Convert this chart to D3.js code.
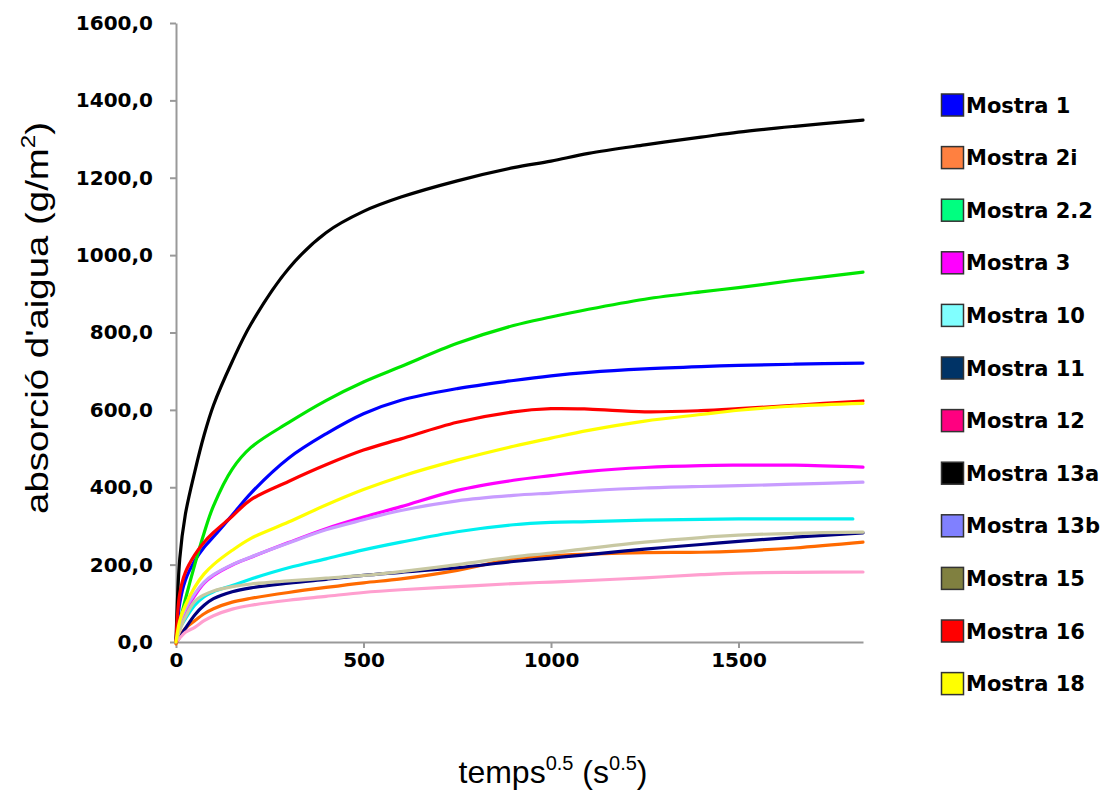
<!DOCTYPE html>
<html>
<head>
<meta charset="utf-8">
<script src="https://cdn.jsdelivr.net/npm/d3@7"></script>
<style>
  body { margin: 0; background: #fff; }
  svg { display: block; }
</style>
</head>
<body>
<div id="chart"></div>
<script>
var width = 1114, height = 792;

// sample times (temps^0.5) shared by every series
var times = [0, 10, 25, 50, 75, 100, 150, 200, 300, 400, 500, 600, 750, 900, 1000, 1100, 1250, 1400, 1500, 1650, 1832];

var names = ["Mostra 1", "Mostra 2i", "Mostra 2.2", "Mostra 3", "Mostra 10", "Mostra 11",
             "Mostra 12", "Mostra 13a", "Mostra 13b", "Mostra 15", "Mostra 16", "Mostra 18"];

// colours in the legend boxes
var legendColors = ["#0000ff", "#ff8040", "#00ff80", "#ff00ff", "#80ffff", "#003366",
                    "#ff0080", "#000000", "#8080ff", "#808040", "#ff0000", "#ffff00"];
// colours actually used for the plotted lines
var lineColors = ["#0000ff", "#ff6a00", "#00e600", "#ff00ff", "#00f0f0", "#000080",
                  "#ff9fcf", "#000000", "#c89cff", "#c8c8a2", "#ff0000", "#ffff00"];

// last sample time of each series (Mostra 10 stops a bit earlier)
var lastTime = [1832, 1832, 1832, 1832, 1805, 1832, 1832, 1832, 1832, 1832, 1832, 1832];

var m1   = [0, 100, 160, 210, 245, 272, 328, 385, 475, 538, 590, 625, 655, 676, 688, 697, 706, 712, 715, 718, 721];
var m2i  = [-5, 15, 35, 55, 73, 86, 103, 113, 128, 141, 153, 163, 185, 215, 223, 227, 231, 232, 235, 243, 258];
var m22  = [0, 50, 110, 200, 282, 352, 447, 503, 567, 624, 672, 712, 772, 818, 840, 860, 886, 905, 916, 935, 956];
var m3   = [0, 45, 80, 120, 152, 172, 199, 219, 257, 293, 323, 350, 392, 418, 430, 441, 451, 456, 457, 457, 452];
var m10  = [0, 35, 60, 95, 117, 130, 146, 163, 192, 215, 238, 258, 285, 303, 309, 311, 315, 317, 318, 318, 318];
var m11  = [0, 12, 35, 70, 95, 112, 130, 140, 152, 162, 172, 180, 192, 208, 217, 226, 240, 252, 260, 271, 282];
var m12  = [0, 10, 25, 38, 55, 68, 85, 95, 108, 118, 128, 135, 143, 151, 155, 159, 166, 174, 178, 180, 181];
var m13a = [0, 215, 330, 440, 535, 612, 725, 822, 965, 1058, 1113, 1150, 1192, 1226, 1243, 1263, 1285, 1305, 1318, 1333, 1349];
var m13b = [0, 50, 85, 125, 155, 174, 200, 220, 256, 290, 316, 340, 365, 379, 385, 391, 398, 402, 404, 408, 413];
var m15  = [0, 30, 65, 105, 122, 132, 143, 150, 158, 165, 172, 182, 200, 220, 230, 242, 258, 270, 276, 281, 284];
var m16  = [0, 125, 180, 225, 258, 283, 325, 368, 415, 458, 496, 525, 568, 595, 603, 602, 595, 598, 603, 612, 623];
var m18  = [0, 55, 95, 142, 176, 200, 237, 268, 310, 354, 394, 428, 470, 506, 527, 547, 571, 588, 599, 610, 617];

var seriesValues = [m1, m2i, m22, m3, m10, m11, m12, m13a, m13b, m15, m16, m18];

var yTicks = [0, 200, 400, 600, 800, 1000, 1200, 1400, 1600];
var xTicks = [0, 500, 1000, 1500];

var svg = d3.select("#chart").append("svg").attr("width", width).attr("height", height);

var x = d3.scaleLinear().domain([0, 1832]).range([176, 863]);
var y = d3.scaleLinear().domain([0, 1600]).range([642, 23]);

// axes
var yAxis = svg.append("g").attr("transform", "translate(176,0)")
    .call(d3.axisLeft(y).tickValues(yTicks).tickSize(6).tickSizeOuter(0).tickPadding(17)
      .tickFormat(function(d) { return d3.format(".1f")(d).replace(".", ","); }));
var xAxis = svg.append("g").attr("transform", "translate(0,642)")
    .call(d3.axisBottom(x).tickValues(xTicks).tickSize(6).tickSizeOuter(0).tickPadding(5)
      .tickFormat(d3.format("d")));

[yAxis, xAxis].forEach(function(a) {
  a.select(".domain").attr("stroke", "#999").attr("stroke-width", 2);
  a.selectAll(".tick line").attr("stroke", "#999").attr("stroke-width", 2);
  a.selectAll(".tick text").attr("fill", "#000")
    .style("font-family", "'DejaVu Sans'").style("font-weight", "bold").style("font-size", "20px");
});

// lines
var line = d3.line()
    .x(function(d) { return x(d[0]); })
    .y(function(d) { return y(d[1]); })
    .curve(d3.curveCatmullRom.alpha(0.5));

var lines = svg.append("g");
seriesValues.forEach(function(vals, i) {
  var pts = vals.map(function(v, k) {
    var t = k === times.length - 1 ? lastTime[i] : times[k];
    return [t, v];
  });
  lines.append("path")
    .attr("d", line(pts))
    .attr("fill", "none")
    .attr("stroke", lineColors[i])
    .attr("stroke-width", 3.2)
    .attr("stroke-linejoin", "round")
    .attr("stroke-linecap", "round");
});

// legend
var legend = svg.append("g");
names.forEach(function(n, i) {
  var cy = 105 + i * 52.6;
  legend.append("rect")
    .attr("x", 941.5).attr("y", cy - 11).attr("width", 22).attr("height", 22)
    .attr("fill", legendColors[i]).attr("stroke", "#333").attr("stroke-width", 1.5);
  legend.append("text")
    .attr("x", 966).attr("y", cy).attr("dy", "0.36em")
    .style("font-family", "'DejaVu Sans'").style("font-weight", "bold").style("font-size", "21px")
    .text(n);
});

// axis titles
var yt = svg.append("text")
    .attr("transform", "translate(48,318) rotate(-90) scale(1.2,1)")
    .attr("text-anchor", "middle")
    .style("font-family", "'Liberation Sans', Arial").style("font-size", "32px");
yt.append("tspan").text("absorció d'aigua (g/m");
yt.append("tspan").attr("dy", -13).style("font-size", "20px").text("2");
yt.append("tspan").attr("dy", 13).text(")");

var xt = svg.append("text")
    .attr("x", 553).attr("y", 783)
    .attr("text-anchor", "middle")
    .style("font-family", "'Liberation Sans', Arial").style("font-size", "32px");
xt.append("tspan").text("temps");
xt.append("tspan").attr("dy", -13).style("font-size", "20px").text("0.5");
xt.append("tspan").attr("dy", 13).text(" (s");
xt.append("tspan").attr("dy", -13).style("font-size", "20px").text("0.5");
xt.append("tspan").attr("dy", 13).text(")");
</script>
</body>
</html>
